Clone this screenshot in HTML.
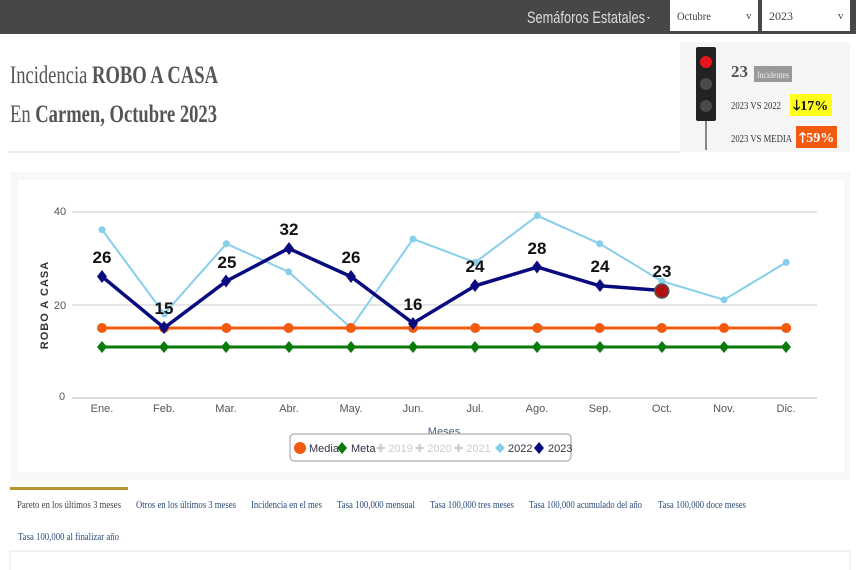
<!DOCTYPE html>
<html><head><meta charset="utf-8"><style>
body{margin:0;width:856px;height:570px;overflow:hidden;background:#fff;font-family:"Liberation Serif",serif}
svg{position:absolute;left:0;top:0}
</style></head><body>
<svg width="856" height="570" viewBox="0 0 856 570" font-family="Liberation Serif, serif">
<rect x="0" y="0" width="856" height="34" fill="#474747"/>
<text x="527" y="23" font-size="17" fill="#ddd" font-family="Liberation Sans Narrow, Liberation Sans, sans-serif" textLength="118" lengthAdjust="spacingAndGlyphs">Semáforos Estatales</text>
<path d="M647 17l3 0l-1.5 2z" fill="#ddd"/>
<rect x="670" y="0" width="88" height="31" fill="#fff"/>
<text x="677" y="20" font-size="12" fill="#444" textLength="34" lengthAdjust="spacingAndGlyphs">Octubre</text>
<text x="746" y="19" font-size="11" fill="#444">v</text>
<rect x="762" y="0" width="88" height="31" fill="#fff"/>
<text x="769" y="20" font-size="12" fill="#444">2023</text>
<text x="838" y="19" font-size="11" fill="#444">v</text>
<text x="10" y="83" font-size="25" fill="#555" textLength="208" lengthAdjust="spacingAndGlyphs">Incidencia <tspan font-weight="bold">ROBO A CASA</tspan></text>
<text x="10" y="122" font-size="25" fill="#555" textLength="207" lengthAdjust="spacingAndGlyphs">En <tspan font-weight="bold">Carmen, Octubre 2023</tspan></text>
<line x1="8" y1="152" x2="680" y2="152" stroke="#ddd"/>
<rect x="680" y="42" width="170" height="110" fill="#f5f5f5"/>
<rect x="696" y="47" width="20" height="74" rx="2" fill="#222"/>
<line x1="706" y1="121" x2="706" y2="150" stroke="#888" stroke-width="2"/>
<circle cx="706" cy="62" r="6" fill="#e8141a"/>
<circle cx="706" cy="84" r="6" fill="#4a4a48"/>
<circle cx="706" cy="106" r="6" fill="#4a4a48"/>
<text x="731" y="77" font-size="17" font-weight="bold" fill="#555">23</text>
<rect x="754" y="66" width="38" height="16" fill="#999"/>
<text x="757" y="78" font-size="9" fill="#eee" textLength="32" lengthAdjust="spacingAndGlyphs">Incidentes</text>
<text x="731" y="109" font-size="10" fill="#333" textLength="50" lengthAdjust="spacingAndGlyphs">2023 VS 2022</text>
<rect x="790" y="94" width="42" height="22" fill="#ffff1a"/>
<text x="793" y="110" font-size="14" font-weight="bold" fill="#111">🡓17%</text>
<text x="731" y="142" font-size="10" fill="#333" textLength="61" lengthAdjust="spacingAndGlyphs">2023 VS MEDIA</text>
<rect x="796" y="126" width="41" height="22" fill="#f25a10"/>
<text x="799" y="142" font-size="14" font-weight="bold" fill="#fff">🡑59%</text>
<rect x="10" y="172" width="840" height="308" fill="#f7f7f7"/>
<rect x="18" y="180" width="826" height="292" fill="#fff"/>
<g stroke="#ccc" stroke-width="1"><line x1="72" y1="212" x2="817" y2="212"/><line x1="72" y1="305" x2="817" y2="305"/><line x1="72" y1="398" x2="817" y2="398" stroke="#bbb"/></g>
<g font-family="Liberation Sans Narrow, Liberation Sans, sans-serif" font-size="11" fill="#555">
<text x="60" y="215" text-anchor="middle">40</text><text x="60" y="309" text-anchor="middle">20</text><text x="62" y="400" text-anchor="middle">0</text>
<text x="102" y="412" text-anchor="middle">Ene.</text><text x="164" y="412" text-anchor="middle">Feb.</text><text x="226" y="412" text-anchor="middle">Mar.</text><text x="289" y="412" text-anchor="middle">Abr.</text><text x="351" y="412" text-anchor="middle">May.</text><text x="413" y="412" text-anchor="middle">Jun.</text><text x="475" y="412" text-anchor="middle">Jul.</text><text x="537" y="412" text-anchor="middle">Ago.</text><text x="600" y="412" text-anchor="middle">Sep.</text><text x="662" y="412" text-anchor="middle">Oct.</text><text x="724" y="412" text-anchor="middle">Nov.</text><text x="786" y="412" text-anchor="middle">Dic.</text>
<text x="444" y="435" text-anchor="middle" fill="#4a6080">Meses</text>
</g>
<text x="48" y="305" font-family="Liberation Sans, sans-serif" font-size="11" font-weight="bold" fill="#333" text-anchor="middle" transform="rotate(-90 48 305)" letter-spacing="1">ROBO A CASA</text>
<polyline fill="none" stroke="#87ceeb" stroke-width="2" points="102,229.7 164.2,313.9 226.4,243.7 288.6,271.8 350.8,327.9 413,239 475.2,262.4 537.4,215.7 599.6,243.7 661.8,281.1 724,299.8 786.2,262.4"/>
<g fill="#87ceeb"><circle cx="102" cy="229.7" r="3.5"/><circle cx="164.2" cy="313.9" r="3.5"/><circle cx="226.4" cy="243.7" r="3.5"/><circle cx="288.6" cy="271.8" r="3.5"/><circle cx="350.8" cy="327.9" r="3.5"/><circle cx="413" cy="239" r="3.5"/><circle cx="475.2" cy="262.4" r="3.5"/><circle cx="537.4" cy="215.7" r="3.5"/><circle cx="599.6" cy="243.7" r="3.5"/><circle cx="661.8" cy="281.1" r="3.5"/><circle cx="724" cy="299.8" r="3.5"/><circle cx="786.2" cy="262.4" r="3.5"/></g>
<line x1="102" y1="328" x2="786" y2="328" stroke="#f25a10" stroke-width="3"/>
<g fill="#f25a10"><circle cx="102" cy="328" r="5"/><circle cx="164.2" cy="328" r="5"/><circle cx="226.4" cy="328" r="5"/><circle cx="288.6" cy="328" r="5"/><circle cx="350.8" cy="328" r="5"/><circle cx="413" cy="328" r="5"/><circle cx="475.2" cy="328" r="5"/><circle cx="537.4" cy="328" r="5"/><circle cx="599.6" cy="328" r="5"/><circle cx="661.8" cy="328" r="5"/><circle cx="724" cy="328" r="5"/><circle cx="786.2" cy="328" r="5"/></g>
<line x1="102" y1="347" x2="786" y2="347" stroke="#0a7a0a" stroke-width="3"/>
<g fill="#0a7a0a"><path d="M102 341l5 6l-5 6l-5-6z"/><path d="M164 341l5 6l-5 6l-5-6z"/><path d="M226 341l5 6l-5 6l-5-6z"/><path d="M289 341l5 6l-5 6l-5-6z"/><path d="M351 341l5 6l-5 6l-5-6z"/><path d="M413 341l5 6l-5 6l-5-6z"/><path d="M475 341l5 6l-5 6l-5-6z"/><path d="M537 341l5 6l-5 6l-5-6z"/><path d="M600 341l5 6l-5 6l-5-6z"/><path d="M662 341l5 6l-5 6l-5-6z"/><path d="M724 341l5 6l-5 6l-5-6z"/><path d="M786 341l5 6l-5 6l-5-6z"/></g>
<polyline fill="none" stroke="#0a0a80" stroke-width="3.5" points="102,276.5 164.2,327.9 226.4,281.1 288.6,248.4 350.8,276.5 413,323.2 475.2,285.8 537.4,267.1 599.6,285.8 661.8,290.5"/>
<g fill="#0a0a80"><path d="M102 270l5 6.5l-5 6.5l-5-6.5z"/><path d="M164 321l5 6.5l-5 6.5l-5-6.5z"/><path d="M226 274.5l5 6.5l-5 6.5l-5-6.5z"/><path d="M289 242l5 6.5l-5 6.5l-5-6.5z"/><path d="M351 270l5 6.5l-5 6.5l-5-6.5z"/><path d="M413 317l5 6.5l-5 6.5l-5-6.5z"/><path d="M475 279l5 6.5l-5 6.5l-5-6.5z"/><path d="M537 260.5l5 6.5l-5 6.5l-5-6.5z"/><path d="M600 279l5 6.5l-5 6.5l-5-6.5z"/></g>
<circle cx="661.8" cy="291" r="7" fill="#b01010" stroke="#555" stroke-width="1.5"/>
<g font-family="Liberation Sans Narrow, Liberation Sans, sans-serif" font-size="17" font-weight="bold" fill="#111" text-anchor="middle">
<text x="102" y="263">26</text><text x="164" y="314">15</text><text x="227" y="268">25</text><text x="289" y="235">32</text><text x="351" y="263">26</text><text x="413" y="310">16</text><text x="475" y="272">24</text><text x="537" y="254">28</text><text x="600" y="272">24</text><text x="662" y="277">23</text>
</g>
<rect x="290" y="434" width="281" height="27" rx="4" fill="#fff" stroke="#999"/>
<g font-family="Liberation Sans Narrow, Liberation Sans, sans-serif" font-size="11">
<circle cx="300" cy="448" r="6" fill="#f25a10"/><text x="309" y="452" fill="#334">Media</text>
<path d="M342 442l5 6l-5 6l-5-6z" fill="#0a7a0a"/><text x="351" y="452" fill="#334">Meta</text>
<text x="376" y="452" fill="#ccc">✚ 2019</text><text x="415" y="452" fill="#ccc">✚ 2020</text><text x="454" y="452" fill="#ccc">✚ 2021</text>
<path d="M500 443l5 5l-5 5l-5-5z" fill="#87ceeb"/><text x="508" y="452" fill="#334">2022</text>
<path d="M539 442l5 6l-5 6l-5-6z" fill="#0a0a80"/><text x="548" y="452" fill="#334">2023</text>
</g>
<rect x="10" y="487" width="118" height="3" fill="#b8962e"/>
<g font-size="10" fill="#2a4a7a">
<text x="17" y="508" fill="#444" textLength="104" lengthAdjust="spacingAndGlyphs">Pareto en los últimos 3 meses</text>
<text x="136" y="508" textLength="100" lengthAdjust="spacingAndGlyphs">Otros en los últimos 3 meses</text>
<text x="251" y="508" textLength="71" lengthAdjust="spacingAndGlyphs">Incidencia en el mes</text>
<text x="337" y="508" textLength="78" lengthAdjust="spacingAndGlyphs">Tasa 100,000 mensual</text>
<text x="430" y="508" textLength="84" lengthAdjust="spacingAndGlyphs">Tasa 100,000 tres meses</text>
<text x="529" y="508" textLength="113" lengthAdjust="spacingAndGlyphs">Tasa 100,000 acumulado del año</text>
<text x="658" y="508" textLength="88" lengthAdjust="spacingAndGlyphs">Tasa 100,000 doce meses</text>
<text x="18" y="540" textLength="101" lengthAdjust="spacingAndGlyphs">Tasa 100,000 al finalizar año</text>
</g>
<rect x="10" y="551" width="840" height="20" fill="#fff" stroke="#e6e6e6"/>
</svg>
</body></html>
